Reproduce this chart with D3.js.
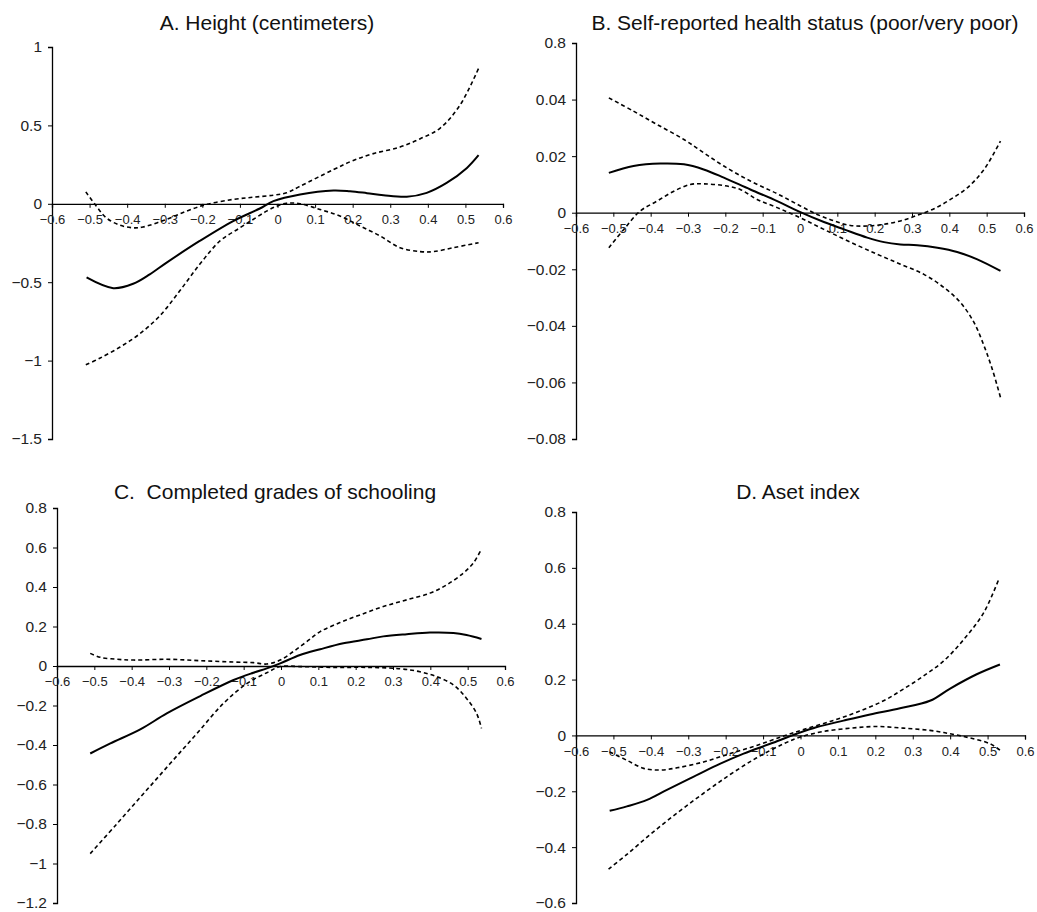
<!DOCTYPE html>
<html>
<head>
<meta charset="utf-8">
<script src="https://cdn.jsdelivr.net/npm/d3@7"></script>
<style>
  body { margin: 0; background: #fff; }
  svg { display: block; font-family: "Liberation Sans", Arial, sans-serif; }
  .title { font-size: 21px; fill: #111; }
  .ytick text { font-size: 15.5px; fill: #222; }
  .xtick text { font-size: 13px; fill: #222; }
  .fit { fill: none; stroke: #000; stroke-width: 2; }
  .band { fill: none; stroke: #000; stroke-width: 1.6; stroke-dasharray: 4 3; }
</style>
</head>
<body>
<svg width="1037" height="912"></svg>
<script>
// ---- data ----
const xTicks = [-0.6, -0.5, -0.4, -0.3, -0.2, -0.1, 0, 0.1, 0.2, 0.3, 0.4, 0.5, 0.6];

// A. Height
const heightFit = [[-0.508,-0.47],[-0.437,-0.538],[-0.384,-0.51],[-0.34,-0.45],[-0.295,-0.375],[-0.207,-0.237],[-0.118,-0.11],[-0.047,-0.03],[-0.011,0.017],[0.06,0.06],[0.149,0.085],[0.193,0.08],[0.238,0.068],[0.282,0.055],[0.344,0.045],[0.397,0.07],[0.45,0.133],[0.504,0.229],[0.535,0.31]];
const heightUpper = [[-0.51,0.076],[-0.482,-0.015],[-0.456,-0.089],[-0.42,-0.136],[-0.384,-0.153],[-0.358,-0.148],[-0.296,-0.1],[-0.242,-0.047],[-0.189,-0.004],[-0.118,0.028],[-0.065,0.042],[-0.011,0.055],[0.024,0.07],[0.06,0.112],[0.149,0.218],[0.2,0.275],[0.255,0.32],[0.326,0.362],[0.38,0.415],[0.433,0.483],[0.486,0.631],[0.535,0.864]];
const heightLower = [[-0.51,-1.027],[-0.473,-0.985],[-0.42,-0.915],[-0.367,-0.83],[-0.313,-0.714],[-0.26,-0.555],[-0.207,-0.386],[-0.153,-0.237],[-0.1,-0.153],[-0.065,-0.1],[-0.029,-0.047],[-0.002,-0.015],[0.024,0.004],[0.06,0.0],[0.113,-0.036],[0.166,-0.078],[0.22,-0.142],[0.273,-0.205],[0.326,-0.28],[0.38,-0.305],[0.415,-0.305],[0.468,-0.28],[0.535,-0.248]];
const heightYTicks = [-1.5, -1, -0.5, 0, 0.5, 1];
const heightYLabels = ["\u22121.5", "\u22121", "\u22120.5", "0", "0.5", "1"];

// B. Self-reported health status
const healthFit = [[-0.512,0.0141],[-0.446,0.0165],[-0.374,0.0174],[-0.311,0.0171],[-0.258,0.0153],[-0.204,0.0124],[-0.133,0.0082],[-0.061,0.0041],[0.001,0.0002],[0.064,-0.0033],[0.118,-0.0059],[0.18,-0.0088],[0.225,-0.0104],[0.269,-0.0112],[0.314,-0.0115],[0.368,-0.0124],[0.421,-0.0139],[0.475,-0.0165],[0.537,-0.0206]];
const healthUpper = [[-0.512,0.0406],[-0.446,0.0359],[-0.383,0.0312],[-0.311,0.0259],[-0.258,0.0212],[-0.204,0.0165],[-0.133,0.0112],[-0.061,0.0067],[0.001,0.0024],[0.046,-0.0006],[0.091,-0.0029],[0.135,-0.0045],[0.18,-0.0047],[0.225,-0.0041],[0.269,-0.0029],[0.314,-0.0009],[0.359,0.0014],[0.403,0.0047],[0.448,0.0088],[0.493,0.0153],[0.537,0.0253]];
const healthLower = [[-0.512,-0.0124],[-0.472,-0.0059],[-0.428,0.0006],[-0.383,0.0041],[-0.338,0.0076],[-0.294,0.01],[-0.258,0.0102],[-0.204,0.0096],[-0.16,0.0082],[-0.115,0.0047],[-0.061,0.0018],[0.001,-0.0018],[0.064,-0.0059],[0.135,-0.0104],[0.207,-0.0147],[0.269,-0.0182],[0.332,-0.0218],[0.386,-0.0265],[0.43,-0.0318],[0.466,-0.0388],[0.493,-0.0471],[0.515,-0.0553],[0.537,-0.0653]];
const healthYTicks = [-0.08, -0.06, -0.04, -0.02, 0, 0.02, 0.04, 0.06];
const healthYLabels = ["\u22120.08", "\u22120.06", "\u22120.04", "\u22120.02", "0", "0.02", "0.04", "0.8"];

// C. Completed grades of schooling
const schoolFit = [[-0.511,-0.443],[-0.457,-0.392],[-0.377,-0.321],[-0.306,-0.24],[-0.216,-0.152],[-0.127,-0.071],[-0.074,-0.034],[-0.038,-0.012],[-0.002,0.0135],[0.051,0.056],[0.105,0.085],[0.167,0.115],[0.23,0.135],[0.274,0.15],[0.337,0.161],[0.399,0.169],[0.462,0.167],[0.497,0.157],[0.537,0.137]];
const schoolUpper = [[-0.511,0.064],[-0.484,0.044],[-0.439,0.034],[-0.395,0.03],[-0.306,0.034],[-0.216,0.027],[-0.127,0.02],[-0.074,0.017],[-0.038,0.01],[-0.002,0.03],[0.033,0.073],[0.069,0.123],[0.105,0.174],[0.158,0.22],[0.212,0.259],[0.274,0.301],[0.337,0.335],[0.399,0.369],[0.444,0.411],[0.488,0.47],[0.515,0.521],[0.537,0.592]];
const schoolLower = [[-0.511,-0.95],[-0.439,-0.798],[-0.368,-0.646],[-0.297,-0.494],[-0.225,-0.341],[-0.154,-0.189],[-0.091,-0.088],[-0.038,-0.034],[-0.002,-0.003],[0.051,-0.003],[0.141,-0.007],[0.23,-0.007],[0.319,-0.014],[0.372,-0.029],[0.417,-0.054],[0.462,-0.096],[0.497,-0.164],[0.524,-0.24],[0.537,-0.316]];
const schoolYTicks = [-1.2, -1, -0.8, -0.6, -0.4, -0.2, 0, 0.2, 0.4, 0.6, 0.8];

// D. Aset index
const assetFit = [[-0.51,-0.27],[-0.464,-0.254],[-0.41,-0.231],[-0.357,-0.195],[-0.295,-0.154],[-0.224,-0.107],[-0.152,-0.065],[-0.081,-0.03],[-0.01,0.006],[0.044,0.03],[0.115,0.053],[0.186,0.075],[0.266,0.097],[0.346,0.124],[0.4,0.168],[0.471,0.219],[0.533,0.254]];
const assetUpper = [[-0.51,-0.059],[-0.464,-0.089],[-0.419,-0.118],[-0.375,-0.124],[-0.33,-0.116],[-0.259,-0.095],[-0.188,-0.065],[-0.117,-0.036],[-0.045,-0.002],[0.008,0.021],[0.079,0.05],[0.15,0.083],[0.222,0.124],[0.275,0.166],[0.329,0.213],[0.382,0.266],[0.436,0.343],[0.489,0.438],[0.529,0.556]];
const assetLower = [[-0.513,-0.479],[-0.464,-0.426],[-0.402,-0.355],[-0.33,-0.278],[-0.259,-0.207],[-0.188,-0.14],[-0.117,-0.08],[-0.045,-0.03],[-0.001,-0.006],[0.061,0.014],[0.133,0.026],[0.204,0.032],[0.275,0.026],[0.346,0.018],[0.4,0.006],[0.453,-0.009],[0.507,-0.03],[0.533,-0.053]];
const assetYTicks = [-0.6, -0.4, -0.2, 0, 0.2, 0.4, 0.6, 0.8];

const titles = ["A. Height (centimeters)", "B. Self-reported health status (poor/very poor)", "C.  Completed grades of schooling", "D. Aset index"];

// ---- layout (pixel frame of each panel) ----
const panels = [
  { title: titles[0], fit: heightFit, upper: heightUpper, lower: heightLower, yTicks: heightYTicks, yLabels: heightYLabels,
    x0: 52, x1: 503, yTop: 47, yBot: 439, tx: 267, ty: 30 },
  { title: titles[1], fit: healthFit, upper: healthUpper, lower: healthLower, yTicks: healthYTicks, yLabels: healthYLabels,
    x0: 576, x1: 1024, yTop: 43, yBot: 439, tx: 805, ty: 30 },
  { title: titles[2], fit: schoolFit, upper: schoolUpper, lower: schoolLower, yTicks: schoolYTicks, yLabels: null,
    x0: 57, x1: 505, yTop: 508, yBot: 903, tx: 275, ty: 499 },
  { title: titles[3], fit: assetFit, upper: assetUpper, lower: assetLower, yTicks: assetYTicks, yLabels: null,
    x0: 576, x1: 1025, yTop: 512, yBot: 903, tx: 798, ty: 499 }
];

const svg = d3.select("svg");
const minusFmt = v => (v < 0 ? "\u2212" : "") + d3.format("~g")(Math.abs(v));

panels.forEach(p => {
  const g = svg.append("g");
  const x = d3.scaleLinear().domain([-0.6, 0.6]).range([p.x0, p.x1]);
  const y = d3.scaleLinear().domain(d3.extent(p.yTicks)).range([p.yBot, p.yTop]);

  // title
  g.append("text").attr("class", "title")
    .attr("x", p.tx).attr("y", p.ty)
    .attr("text-anchor", "middle")
    .style("white-space", "pre")
    .text(p.title);

  // y axis on the left edge
  const yAxis = d3.axisLeft(y).tickValues(p.yTicks).tickSizeOuter(0).tickSize(4).tickPadding(6)
    .tickFormat((d, i) => p.yLabels ? p.yLabels[i] : minusFmt(d));
  g.append("g").attr("class", "ytick")
    .attr("transform", `translate(${p.x0},0)`)
    .call(yAxis)
    .call(s => s.select(".domain").attr("stroke", "#000").attr("stroke-width", 1.3))
    .call(s => s.selectAll("line").attr("stroke", "#000"))
    .call(s => s.selectAll("text").attr("font-family", null).attr("font-size", null));

  // x axis through zero
  const xAxis = d3.axisBottom(x).tickValues(xTicks).tickSizeOuter(0).tickSize(4).tickPadding(7)
    .tickFormat(minusFmt);
  g.append("g").attr("class", "xtick")
    .attr("transform", `translate(0,${y(0)})`)
    .call(xAxis)
    .call(s => s.select(".domain").attr("stroke", "#000").attr("stroke-width", 1.3))
    .call(s => s.selectAll("line").attr("stroke", "#000"))
    .call(s => s.selectAll("text").attr("font-family", null).attr("font-size", null));

  const line = d3.line().x(d => x(d[0])).y(d => y(d[1])).curve(d3.curveCatmullRom.alpha(0.5));
  g.append("path").attr("class", "band").attr("d", line(p.upper));
  g.append("path").attr("class", "band").attr("d", line(p.lower));
  g.append("path").attr("class", "fit").attr("d", line(p.fit));
});
</script>
</body>
</html>
